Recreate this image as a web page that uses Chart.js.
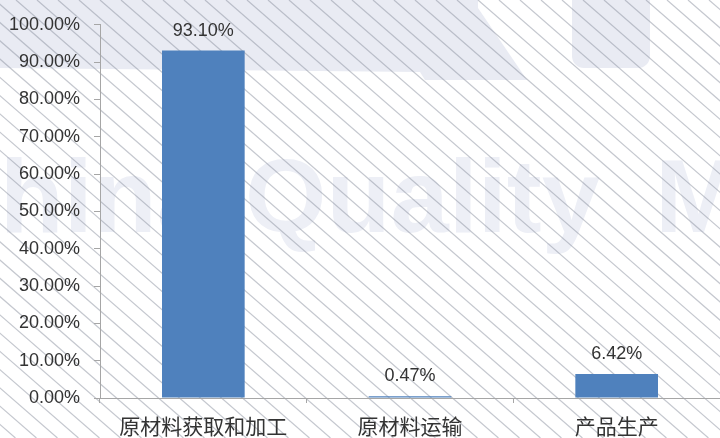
<!DOCTYPE html>
<html>
<head>
<meta charset="utf-8">
<script src="https://cdn.jsdelivr.net/npm/chart.js@4/dist/chart.umd.min.js"></script>
<style>
  html, body { margin: 0; padding: 0; background: #fff; }
  canvas { display: block; }
</style>
</head>
<body>
<canvas id="chart" width="720" height="438"></canvas>
<script>
const categories = ['原材料获取和加工', '原材料运输', '产品生产'];
const shares = [93.10, 0.47, 6.42];
const yTickValues = [0, 10, 20, 30, 40, 50, 60, 70, 80, 90, 100];

// faint watermark + diagonal hatching behind the chart
const backdrop = {
    id: 'backdrop',
    beforeDraw(chart) {
        const ctx = chart.ctx;
        const w = chart.width, h = chart.height;
        ctx.save();
        ctx.fillStyle = '#fff';
        ctx.fillRect(0, 0, w, h);

        ctx.fillStyle = '#e9ebf3';
        ctx.beginPath();
        ctx.moveTo(0, 0);
        ctx.lineTo(478, 0);
        ctx.lineTo(478, 8);
        ctx.lineTo(527, 80);
        ctx.lineTo(425, 80);
        ctx.lineTo(420, 72);
        ctx.lineTo(0, 68);
        ctx.closePath();
        ctx.fill();
        ctx.beginPath();
        ctx.roundRect(572, -20, 78, 88, 12);
        ctx.fill();

        ctx.fillStyle = '#edeff6';
        ctx.font = 'bold 100px "Liberation Sans"';
        const wq = ctx.measureText('Quality').width;
        const size = 100 * 355 / wq;
        ctx.font = 'bold ' + size + 'px "Liberation Sans"';
        ctx.textBaseline = 'alphabetic';
        ctx.textAlign = 'left';
        ctx.fillText('Quality', 245, 232);
        ctx.fillText('M', 655, 232);
        ctx.textAlign = 'right';
        ctx.fillText('China', 215, 232);

        ctx.strokeStyle = 'rgba(140,145,160,0.5)';
        ctx.lineWidth = 1.2;
        const slope = 0.87;
        ctx.beginPath();
        for (let x0 = 16 - 21 * 30; x0 < w; x0 += 21) {
            ctx.moveTo(x0, 0);
            ctx.lineTo(x0 + h / slope, h);
        }
        ctx.stroke();
        ctx.restore();
    }
};

const valueLabels = {
    id: 'valueLabels',
    afterDatasetsDraw(chart) {
        const ctx = chart.ctx;
        const meta = chart.getDatasetMeta(0);
        ctx.save();
        ctx.font = '18px "Liberation Sans"';
        ctx.fillStyle = '#333';
        ctx.textAlign = 'center';
        ctx.textBaseline = 'alphabetic';
        meta.data.forEach((bar, i) => {
            ctx.fillText(shares[i].toFixed(2) + '%', bar.x, bar.y - 15);
        });
        ctx.restore();
    }
};

new Chart(document.getElementById('chart'), {
    type: 'bar',
    data: {
        labels: categories,
        datasets: [{
            data: shares,
            backgroundColor: '#4f81bd',
            borderWidth: 0,
            categoryPercentage: 1,
            barPercentage: 0.4
        }]
    },
    options: {
        responsive: false,
        animation: false,
        layout: { padding: { top: 11, left: 0, right: 0, bottom: 0 } },
        plugins: { legend: { display: false }, tooltip: { enabled: false } },
        scales: {
            x: {
                afterFit(scale) { scale.height = 40; },
                grid: { drawOnChartArea: false, tickLength: 5, color: '#a6a6a6', offset: true },
                border: { color: '#a6a6a6' },
                ticks: {
                    font: { family: '"Noto Sans CJK SC"', size: 21 },
                    color: '#333',
                    padding: 10,
                    maxRotation: 0
                }
            },
            y: {
                min: 0,
                max: 100,
                afterFit(scale) { scale.width = 100; },
                afterBuildTicks(scale) { scale.ticks = yTickValues.map(v => ({ value: v })); },
                grid: { drawOnChartArea: false, tickLength: 6, color: '#a6a6a6' },
                border: { color: '#a6a6a6' },
                ticks: {
                    font: { family: '"Liberation Sans"', size: 18 },
                    color: '#333',
                    padding: 14,
                    callback: v => v.toFixed(2) + '%'
                }
            }
        }
    },
    plugins: [backdrop, valueLabels]
});
</script>
</body>
</html>
